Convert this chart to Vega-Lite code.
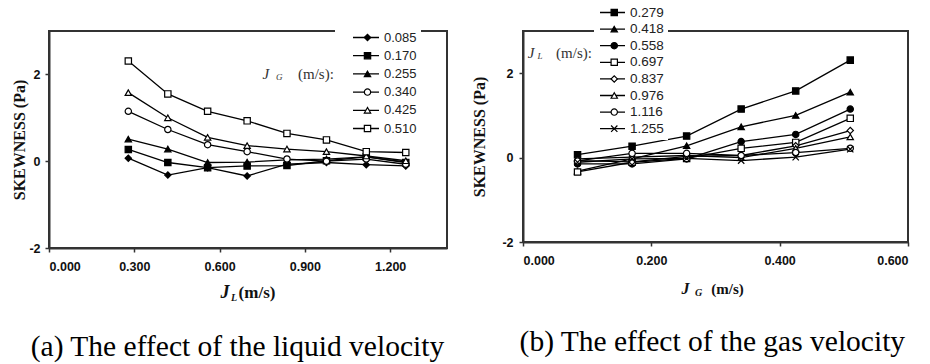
{
  "$schema": "https://vega.github.io/schema/vega-lite/v6.json",
  "background": "white",
  "padding": {"left": 10, "top": 1, "right": 0, "bottom": 0},
  "spacing": 22,
  "datasets": {
    "d": [
      {"jg": 0.085, "jl": 0.279, "s": 0.07}, {"jg": 0.085, "jl": 0.418, "s": -0.32}, {"jg": 0.085, "jl": 0.558, "s": -0.15}, {"jg": 0.085, "jl": 0.697, "s": -0.34},
      {"jg": 0.085, "jl": 0.837, "s": -0.07}, {"jg": 0.085, "jl": 0.976, "s": -0.03}, {"jg": 0.085, "jl": 1.116, "s": -0.08}, {"jg": 0.085, "jl": 1.255, "s": -0.11},
      {"jg": 0.170, "jl": 0.279, "s": 0.27}, {"jg": 0.170, "jl": 0.418, "s": -0.03}, {"jg": 0.170, "jl": 0.558, "s": -0.15}, {"jg": 0.170, "jl": 0.697, "s": -0.11},
      {"jg": 0.170, "jl": 0.837, "s": -0.10}, {"jg": 0.170, "jl": 0.976, "s": 0.01}, {"jg": 0.170, "jl": 1.116, "s": 0.10}, {"jg": 0.170, "jl": 1.255, "s": -0.03},
      {"jg": 0.255, "jl": 0.279, "s": 0.51}, {"jg": 0.255, "jl": 0.418, "s": 0.28}, {"jg": 0.255, "jl": 0.558, "s": -0.03}, {"jg": 0.255, "jl": 0.697, "s": -0.02},
      {"jg": 0.255, "jl": 0.837, "s": 0.03}, {"jg": 0.255, "jl": 0.976, "s": 0.05}, {"jg": 0.255, "jl": 1.116, "s": 0.10}, {"jg": 0.255, "jl": 1.255, "s": -0.02},
      {"jg": 0.340, "jl": 0.279, "s": 1.15}, {"jg": 0.340, "jl": 0.418, "s": 0.73}, {"jg": 0.340, "jl": 0.558, "s": 0.38}, {"jg": 0.340, "jl": 0.697, "s": 0.22},
      {"jg": 0.340, "jl": 0.837, "s": 0.05}, {"jg": 0.340, "jl": 0.976, "s": 0.00}, {"jg": 0.340, "jl": 1.116, "s": 0.05}, {"jg": 0.340, "jl": 1.255, "s": -0.07},
      {"jg": 0.425, "jl": 0.279, "s": 1.58}, {"jg": 0.425, "jl": 0.418, "s": 1.00}, {"jg": 0.425, "jl": 0.558, "s": 0.55}, {"jg": 0.425, "jl": 0.697, "s": 0.36},
      {"jg": 0.425, "jl": 0.837, "s": 0.28}, {"jg": 0.425, "jl": 0.976, "s": 0.22}, {"jg": 0.425, "jl": 1.116, "s": 0.12}, {"jg": 0.425, "jl": 1.255, "s": 0.01},
      {"jg": 0.510, "jl": 0.279, "s": 2.31}, {"jg": 0.510, "jl": 0.418, "s": 1.55}, {"jg": 0.510, "jl": 0.558, "s": 1.15}, {"jg": 0.510, "jl": 0.697, "s": 0.93},
      {"jg": 0.510, "jl": 0.837, "s": 0.64}, {"jg": 0.510, "jl": 0.976, "s": 0.49}, {"jg": 0.510, "jl": 1.116, "s": 0.22}, {"jg": 0.510, "jl": 1.255, "s": 0.20}
    ]
  },
  "config": {
    "view": {"stroke": "#333", "strokeWidth": 2},
    "axis": {
      "grid": false, "domainColor": "#333", "domainWidth": 2, "tickColor": "#333", "tickWidth": 1.5, "tickSize": 4,
      "labelFont": "Liberation Sans", "labelFontWeight": "bold", "labelFontSize": 12.5, "labelColor": "#111",
      "titleFont": "Liberation Serif", "titleFontSize": 16, "titleFontWeight": "bold", "titleColor": "#111"
    },
    "text": {"color": "#111"}
  },
  "resolve": {
    "scale": {"x": "independent", "y": "independent", "color": "independent", "shape": "independent", "fill": "independent", "stroke": "independent"},
    "legend": {"color": "independent", "shape": "independent", "fill": "independent", "stroke": "independent"}
  },
  "hconcat": [
    {
      "width": 398, "height": 217,
      "data": {"name": "d"},
      "title": {"text": "(a) The effect of the liquid velocity", "orient": "bottom", "anchor": "middle", "frame": "bounds", "offset": 30, "dx": 8, "font": "Liberation Serif", "fontSize": 29.5, "fontWeight": "normal", "color": "#000"},
      "layer": [
        {
          "mark": {"type": "line", "strokeWidth": 1.3},
          "encoding": {
            "x": {"field": "jl", "type": "quantitative", "scale": {"domain": [0, 1.4], "nice": false, "zero": false},
                  "axis": {"values": [0, 0.3, 0.6, 0.9, 1.2], "format": ".3f", "title": null, "labelPadding": 8}},
            "y": {"field": "s", "type": "quantitative", "scale": {"domain": [-2, 3], "nice": false},
                  "axis": {"values": [-2, 0, 2], "labelExpr": "datum.value < 0 ? '-' + abs(datum.value) : '' + datum.value", "title": "SKEWNESS (Pa)", "labelPadding": 5, "titlePadding": 1}},
            "color": {"field": "jg", "type": "nominal",
                      "scale": {"domain": [0.085, 0.17, 0.255, 0.34, 0.425, 0.51], "range": ["black", "black", "black", "black", "black", "black"]},
                      "legend": {"orient": "none", "legendX": 286, "legendY": -4, "title": null, "symbolType": "stroke", "symbolSize": 676, "symbolStrokeWidth": 1.3,
                                 "padding": 4, "fillColor": "white", "symbolOffset": 13, "labelOffset": 4, "labelFont": "Liberation Sans", "labelFontSize": 13,
                                 "labelColor": "#222", "rowPadding": 4.2, "clipHeight": 13, "format": ".3f", "zindex": 0}},
            "order": {"field": "jl"}
          }
        },
        {
          "mark": {"type": "point", "filled": true, "strokeWidth": 1.2, "size": 40, "opacity": 1},
          "encoding": {
            "x": {"field": "jl", "type": "quantitative"},
            "y": {"field": "s", "type": "quantitative"},
            "shape": {"field": "jg", "type": "nominal", "scale": {"range": ["diamond", "square", "triangle-up", "circle", "triangle-up", "square"]},
                      "legend": {"orient": "none", "legendX": 308, "legendY": -4, "title": null, "padding": 4, "symbolSize": 40, "symbolStrokeWidth": 1.2,
                                 "labelFontSize": 13, "labelFont": "Liberation Sans", "labelExpr": "' '", "labelOpacity": 0, "rowPadding": 4.2, "clipHeight": 13, "zindex": 1}},
            "fill": {"field": "jg", "type": "nominal", "scale": {"range": ["black", "black", "black", "white", "white", "white"]},
                     "legend": {"orient": "none", "legendX": 308, "legendY": -4, "title": null, "padding": 4, "symbolSize": 40, "symbolStrokeWidth": 1.2,
                                "labelFontSize": 13, "labelFont": "Liberation Sans", "labelExpr": "' '", "labelOpacity": 0, "rowPadding": 4.2, "clipHeight": 13, "zindex": 1}},
            "stroke": {"field": "jg", "type": "nominal", "scale": {"range": ["black", "black", "black", "black", "black", "black"]},
                       "legend": {"orient": "none", "legendX": 308, "legendY": -4, "title": null, "padding": 4, "symbolSize": 40, "symbolStrokeWidth": 1.2,
                                  "labelFontSize": 13, "labelFont": "Liberation Sans", "labelExpr": "' '", "labelOpacity": 0, "rowPadding": 4.2, "clipHeight": 13, "zindex": 1}}
          }
        },
        {"data": {"values": [{}]}, "mark": {"type": "text", "text": "J", "font": "Liberation Serif", "fontSize": 18, "fontWeight": "bold", "fontStyle": "italic", "align": "center", "baseline": "middle", "dx": -23, "dy": 45},
         "encoding": {"x": {"datum": 0.7}, "y": {"datum": -2}}},
        {"data": {"values": [{}]}, "mark": {"type": "text", "text": "L", "font": "Liberation Serif", "fontSize": 10, "fontWeight": "bold", "fontStyle": "italic", "align": "center", "baseline": "middle", "dx": -14, "dy": 50},
         "encoding": {"x": {"datum": 0.7}, "y": {"datum": -2}}},
        {"data": {"values": [{}]}, "mark": {"type": "text", "text": "(m/s)", "font": "Liberation Serif", "fontSize": 17, "fontWeight": "bold", "align": "center", "baseline": "middle", "dx": 9, "dy": 45},
         "encoding": {"x": {"datum": 0.7}, "y": {"datum": -2}}},
        {"data": {"values": [{}]}, "mark": {"type": "text", "text": "J", "font": "Liberation Serif", "fontSize": 15, "fontStyle": "italic", "align": "center", "baseline": "middle", "color": "#333"},
         "encoding": {"x": {"datum": 0.763}, "y": {"datum": 2}}},
        {"data": {"values": [{}]}, "mark": {"type": "text", "text": "G", "font": "Liberation Serif", "fontSize": 9, "fontStyle": "italic", "align": "center", "baseline": "middle", "color": "#333", "dy": 3},
         "encoding": {"x": {"datum": 0.81}, "y": {"datum": 2}}},
        {"data": {"values": [{}]}, "mark": {"type": "text", "text": "(m/s):", "font": "Liberation Serif", "fontSize": 15, "align": "center", "baseline": "middle", "color": "#333"},
         "encoding": {"x": {"datum": 0.939}, "y": {"datum": 2}}}
      ]
    },
    {
      "width": 385, "height": 211,
      "data": {"name": "d"},
      "title": {"text": "(b) The effect of the gas velocity", "orient": "bottom", "anchor": "middle", "frame": "bounds", "offset": 30, "dx": 22, "font": "Liberation Serif", "fontSize": 29.5, "fontWeight": "normal", "color": "#000"},
      "layer": [
        {
          "mark": {"type": "line", "strokeWidth": 1.3},
          "encoding": {
            "x": {"field": "jg", "type": "quantitative", "scale": {"domain": [0, 0.6], "nice": false, "zero": false},
                  "axis": {"values": [0, 0.2, 0.4, 0.6], "format": ".3f", "title": null, "labelPadding": 8}},
            "y": {"field": "s", "type": "quantitative", "scale": {"domain": [-2, 3], "nice": false},
                  "axis": {"values": [-2, 0, 2], "labelExpr": "datum.value < 0 ? '-' + abs(datum.value) : '' + datum.value", "title": "SKEWNESS (Pa)", "labelPadding": 6, "titlePadding": 14}},
            "color": {"field": "jl", "type": "nominal",
                      "scale": {"domain": [0.279, 0.418, 0.558, 0.697, 0.837, 0.976, 1.116, 1.255], "range": ["black", "black", "black", "black", "black", "black", "black", "black"]},
                      "legend": {"orient": "none", "legendX": 71, "legendY": -29, "title": null, "symbolType": "stroke", "symbolSize": 625, "symbolStrokeWidth": 1.3,
                                 "padding": 4, "fillColor": "white", "symbolOffset": 1, "labelOffset": 4, "labelFont": "Liberation Sans", "labelFontSize": 13.5,
                                 "labelColor": "#222", "rowPadding": 2.6, "clipHeight": 13, "format": ".3f", "zindex": 0}},
            "order": {"field": "jg"}
          }
        },
        {
          "mark": {"type": "point", "filled": true, "strokeWidth": 1.2, "size": 40, "opacity": 1},
          "encoding": {
            "x": {"field": "jg", "type": "quantitative"},
            "y": {"field": "s", "type": "quantitative"},
            "shape": {"field": "jl", "type": "nominal", "scale": {"range": ["square", "triangle-up", "circle", "square", "diamond", "triangle-up", "circle", "M-1,-1L1,1M-1,1L1,-1"]},
                      "legend": {"orient": "none", "legendX": 80.5, "legendY": -29, "title": null, "padding": 4, "symbolSize": 40, "symbolStrokeWidth": 1.2,
                                 "labelFontSize": 13.5, "labelFont": "Liberation Sans", "labelExpr": "' '", "labelOpacity": 0, "rowPadding": 2.6, "clipHeight": 13, "zindex": 1}},
            "fill": {"field": "jl", "type": "nominal", "scale": {"range": ["black", "black", "black", "white", "white", "white", "white", "white"]},
                     "legend": {"orient": "none", "legendX": 80.5, "legendY": -29, "title": null, "padding": 4, "symbolSize": 40, "symbolStrokeWidth": 1.2,
                                "labelFontSize": 13.5, "labelFont": "Liberation Sans", "labelExpr": "' '", "labelOpacity": 0, "rowPadding": 2.6, "clipHeight": 13, "zindex": 1}},
            "stroke": {"field": "jl", "type": "nominal", "scale": {"range": ["black", "black", "black", "black", "black", "black", "black", "black"]},
                       "legend": {"orient": "none", "legendX": 80.5, "legendY": -29, "title": null, "padding": 4, "symbolSize": 40, "symbolStrokeWidth": 1.2,
                                  "labelFontSize": 13.5, "labelFont": "Liberation Sans", "labelExpr": "' '", "labelOpacity": 0, "rowPadding": 2.6, "clipHeight": 13, "zindex": 1}}
          }
        },
        {"data": {"values": [{}]}, "mark": {"type": "text", "text": "J", "font": "Liberation Serif", "fontSize": 16, "fontWeight": "bold", "fontStyle": "italic", "align": "center", "baseline": "middle", "dx": -30, "dy": 47},
         "encoding": {"x": {"datum": 0.3}, "y": {"datum": -2}}},
        {"data": {"values": [{}]}, "mark": {"type": "text", "text": "G", "font": "Liberation Serif", "fontSize": 10, "fontWeight": "bold", "fontStyle": "italic", "align": "center", "baseline": "middle", "dx": -17, "dy": 51},
         "encoding": {"x": {"datum": 0.3}, "y": {"datum": -2}}},
        {"data": {"values": [{}]}, "mark": {"type": "text", "text": "(m/s)", "font": "Liberation Serif", "fontSize": 15, "fontWeight": "bold", "align": "center", "baseline": "middle", "dx": 12, "dy": 47},
         "encoding": {"x": {"datum": 0.3}, "y": {"datum": -2}}},
        {"data": {"values": [{}]}, "mark": {"type": "text", "text": "J", "font": "Liberation Serif", "fontSize": 15, "fontStyle": "italic", "align": "center", "baseline": "middle", "color": "#333"},
         "encoding": {"x": {"datum": 0.0125}, "y": {"datum": 2.479}}},
        {"data": {"values": [{}]}, "mark": {"type": "text", "text": "L", "font": "Liberation Serif", "fontSize": 9, "fontStyle": "italic", "align": "center", "baseline": "middle", "color": "#333", "dy": 3},
         "encoding": {"x": {"datum": 0.0265}, "y": {"datum": 2.479}}},
        {"data": {"values": [{}]}, "mark": {"type": "text", "text": "(m/s):", "font": "Liberation Serif", "fontSize": 15, "align": "center", "baseline": "middle", "color": "#333"},
         "encoding": {"x": {"datum": 0.0795}, "y": {"datum": 2.479}}}
      ]
    }
  ]
}
